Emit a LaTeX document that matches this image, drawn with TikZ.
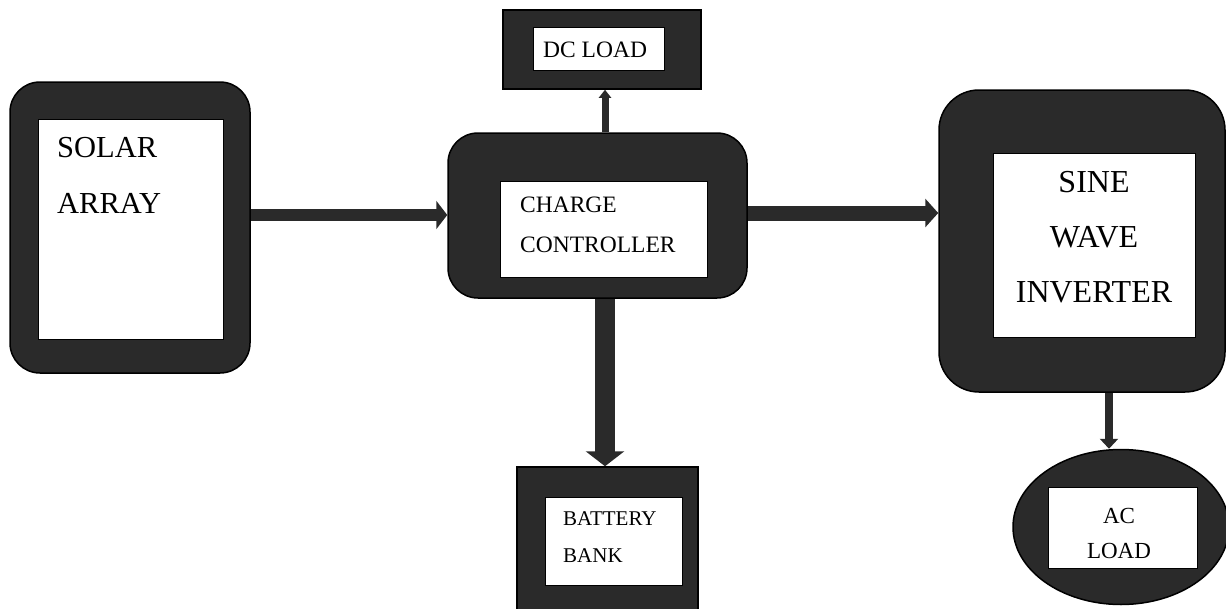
\documentclass[tikz,border=0pt]{standalone}
\usepackage{fontspec}
\setmainfont{Liberation Serif}
\usetikzlibrary{arrows.meta,shapes.geometric}
\definecolor{darkfill}{HTML}{2A2A2A}
\tikzset{
  outerbox/.style={draw=black,line width=1.5pt,fill=darkfill,inner sep=0pt,minimum width=#1},
  innerbox/.style={draw=black,line width=0.6pt,fill=white,inner sep=0pt},
  lbl/.style={anchor=base west,inner sep=0pt,text=black},
  conn/.style={draw=darkfill,line width=#1},
}
\begin{document}
\begin{tikzpicture}[x=1pt,y=-1pt]
\useasboundingbox (0,0) rectangle (1226,608);
% boxes
\node[outerbox=240pt,rounded corners=30pt,minimum height=291pt] (solar) at (130,227.5) {};
\node[innerbox,minimum width=185pt,minimum height=220pt] (solarin) at (130.5,229) {};
\node[outerbox=299pt,rounded corners=30pt,minimum height=165pt] (charge) at (597.5,215.5) {};
\node[innerbox,minimum width=207pt,minimum height=96pt] (chargein) at (603.5,229) {};
\node[outerbox=198pt,minimum height=79pt] (dc) at (602,49.5) {};
\node[innerbox,minimum width=131pt,minimum height=43pt] (dcin) at (598.5,48.5) {};
\node[outerbox=286pt,rounded corners=40pt,minimum height=302pt] (inv) at (1082,241) {};
\node[innerbox,minimum width=202pt,minimum height=184pt] (invin) at (1094,245) {};
\node[outerbox=181pt,minimum height=147pt] (bat) at (607.5,540.5) {};
\node[innerbox,minimum width=137pt,minimum height=88pt] (batin) at (613.5,541) {};
\node[outerbox=216pt,ellipse,minimum height=155pt] (ac) at (1121,527) {};
\node[innerbox,minimum width=149pt,minimum height=81pt] (acin) at (1122.5,527.5) {};
% labels
\node[lbl,font=\fontsize{30.5}{30}\selectfont] (t1) at (57,157) {SOLAR};
\node[lbl,font=\fontsize{30.5}{30}\selectfont] (t2) at (57,213) {ARRAY};
\node[lbl,font=\fontsize{23.5}{23}\selectfont] (t3) at (520,212) {CHARGE};
\node[lbl,font=\fontsize{23.5}{23}\selectfont] (t4) at (520,252) {CONTROLLER};
\node[lbl,font=\fontsize{23.5}{23}\selectfont] (t5) at (543,57) {DC LOAD};
\node[anchor=base,inner sep=0pt,font=\fontsize{32}{32}\selectfont] (t6) at (1094,192) {SINE};
\node[anchor=base,inner sep=0pt,font=\fontsize{32}{32}\selectfont] (t7) at (1094,247) {WAVE};
\node[anchor=base,inner sep=0pt,font=\fontsize{32}{32}\selectfont] (t8) at (1094,302) {INVERTER};
\node[lbl,font=\fontsize{21}{21}\selectfont] (t9) at (563,525) {BATTERY};
\node[lbl,font=\fontsize{21}{21}\selectfont] (t10) at (563,562) {BANK};
\node[anchor=base,inner sep=0pt,font=\fontsize{23}{23}\selectfont] (t11) at (1119,523) {AC};
\node[anchor=base,inner sep=0pt,font=\fontsize{23}{23}\selectfont] (t12) at (1119,558) {LOAD};
% connectors
\draw[conn=12pt,-{Triangle[length=11pt,width=28pt]}] (solar.east |- 0,215) -- (charge.west |- 0,215);
\draw[conn=15pt,-{Triangle[length=13pt,width=28pt]}] (charge.east |- 0,213) -- (inv.west |- 0,213);
\draw[conn=7pt,-{Triangle[length=8pt,width=12pt]}] (charge.north -| 605,0) -- (dc.south -| 605,0);
\draw[conn=20pt,-{Triangle[length=15pt,width=38pt]}] (charge.south -| 605,0) -- (bat.north -| 605,0);
\draw[conn=8pt,-{Triangle[length=10pt,width=18pt]}] (inv.south -| 1109,0) -- (ac.north -| 1109,0);
\end{tikzpicture}
\end{document}
